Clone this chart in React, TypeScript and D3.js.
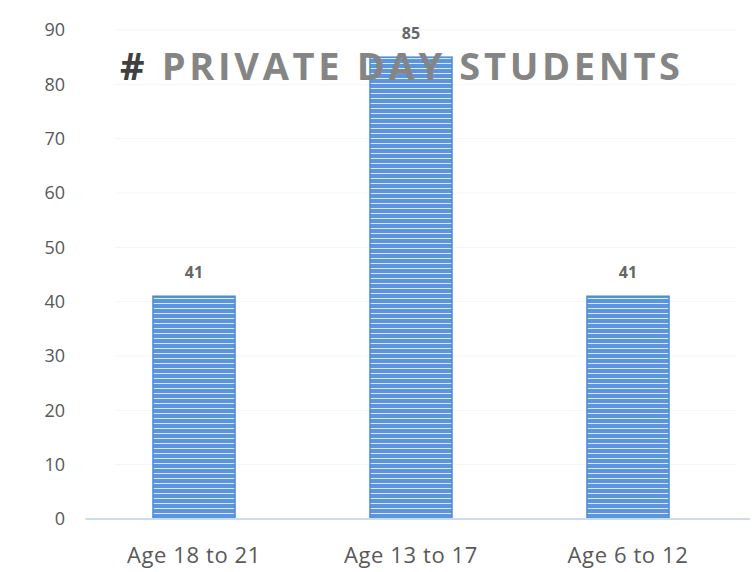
import React from "react";
import * as d3 from "d3";

const categories = ["Age 18 to 21", "Age 13 to 17", "Age 6 to 12"];
const students = [41, 85, 41];
const yTicks = [0, 10, 20, 30, 40, 50, 60, 70, 80, 90];

const W = 754;
const H = 572;
const margin = { top: 30, right: 17, bottom: 53, left: 85.5 };

export default function App() {
  const x = d3
    .scaleBand<string>()
    .domain(categories)
    .range([margin.left, 736.5])
    .paddingInner(0.622)
    .paddingOuter(0.311);

  const y = d3
    .scaleLinear()
    .domain([0, 90])
    .range([H - margin.bottom, margin.top]);

  const font = "'Open Sans', 'Noto Sans', sans-serif";

  return (
    <svg
      width={W}
      height={H}
      style={{ position: "absolute", left: 0, top: 0, background: "#fff" }}
    >
      <defs>
        <pattern id="scan" width="8" height="5" patternUnits="userSpaceOnUse">
          <rect width="8" height="5" fill="#5a95dd" />
          <rect y="3" width="8" height="1" fill="#f2f7fd" opacity="0.85" />
        </pattern>
      </defs>

      {/* faint gridlines */}
      {yTicks.slice(1).map((t) => (
        <line
          key={t}
          x1={margin.left + 30}
          x2={W - margin.right}
          y1={y(t)}
          y2={y(t)}
          stroke="#f5f5f5"
        />
      ))}

      {/* y axis labels */}
      {yTicks.map((t) => (
        <text
          key={t}
          x={65}
          y={y(t)}
          dy="0.36em"
          textAnchor="end"
          fontFamily={font}
          fontSize={18}
          fill="#595959"
        >
          {t}
        </text>
      ))}

      {/* bars */}
      {categories.map((c, i) => (
        <g key={c}>
          <rect
            x={x(c)}
            y={y(students[i])}
            width={x.bandwidth()}
            height={y(0) - y(students[i])}
            fill="url(#scan)"
            stroke="#4f8ad6"
            strokeWidth={1.5}
          />
          <text
            x={(x(c) as number) + x.bandwidth() / 2}
            y={y(students[i]) - 18}
            textAnchor="middle"
            fontFamily={font}
            fontWeight="bold"
            fontSize={16}
            fill="#666"
          >
            {students[i]}
          </text>
          <text
            x={(x(c) as number) + x.bandwidth() / 2}
            y={563}
            textAnchor="middle"
            fontFamily={font}
            fontSize={22}
            letterSpacing={0.6}
            fill="#595959"
          >
            {c}
          </text>
        </g>
      ))}

      {/* title, seen through the middle bar */}
      <text
        x={120}
        y={80}
        textLength={560}
        lengthAdjust="spacing"
        fontFamily={font}
        fontWeight="bold"
        fontSize={38}
        fill="#858585"
      >
        <tspan fill="#404040"># </tspan>PRIVATE DAY STUDENTS
      </text>

      {/* baseline */}
      <line
        x1={margin.left}
        x2={W - 4}
        y1={y(0)}
        y2={y(0)}
        stroke="#c9dcf3"
        strokeWidth={2}
      />
    </svg>
  );
}
